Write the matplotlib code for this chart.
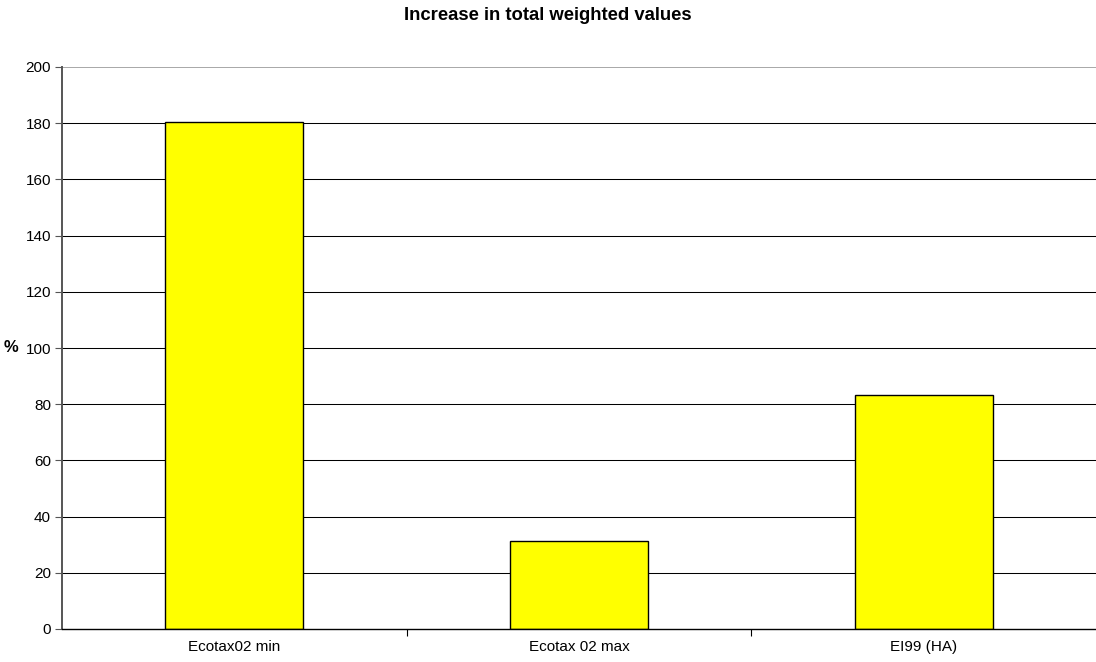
import matplotlib
matplotlib.use("Agg")
import matplotlib.pyplot as plt
import numpy as np

plt.rcParams['font.family'] = ['Liberation Sans', 'DejaVu Sans']

categorias = ["Ecotax02 min", "Ecotax 02 max", "EI99 (HA)"]
valores = [180.3, 31.4, 83.3]
yticks = [0, 20, 40, 60, 80, 100, 120, 140, 160, 180, 200]

fig = plt.figure(figsize=(10.96, 6.62), dpi=100)
ax = fig.add_axes([62/1096, 33/662, 1 - 62/1096, (629-67)/662])

x = np.arange(len(categorias))
ax.bar(x, valores, width=0.4, color="#ffff00", edgecolor="black", linewidth=1.0, zorder=3)

ax.set_xlim(-0.5, len(categorias) - 0.5)
ax.set_ylim(0, 200)
ax.set_yticks(yticks)
for t in yticks[1:-1]:
    ax.axhline(t, color="black", linewidth=0.75, zorder=1)
ax.axhline(200, color="#999999", linewidth=1.2, zorder=1)

# categorias: rotulos no centro, marcas entre elas
ax.set_xticks(x)
ax.set_xticklabels(categorias, fontsize=11)
ax.tick_params(axis="x", length=0, pad=8)
ax.set_xticks([0.5, 1.5], minor=True)
ax.tick_params(axis="x", which="minor", length=5, width=0.8, color="black", direction="out")
ax.tick_params(axis="y", labelsize=11, length=5, width=0.8, color="#555555", direction="out", pad=3)

for s in ["top", "right"]:
    ax.spines[s].set_visible(False)
ax.spines["left"].set_color("#555555")
ax.spines["left"].set_linewidth(1.4)
ax.spines["bottom"].set_color("black")
ax.spines["bottom"].set_linewidth(1.0)
ax.spines["bottom"].set_zorder(4)

ax.set_ylabel("%", fontsize=12, fontweight="bold", rotation=0, labelpad=10, va="center")
fig.suptitle("Increase in total weighted values", fontsize=13.3, fontweight="bold", x=0.5, y=0.99)

fig.savefig("out.png", dpi=100)
